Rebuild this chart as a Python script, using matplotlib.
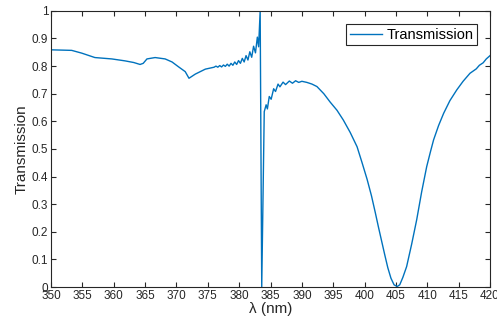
import matplotlib
matplotlib.use('Agg')
import matplotlib.pyplot as plt

plt.rcParams['font.family'] = ['Liberation Sans', 'DejaVu Sans']

# wavelength (nm) and transmission
wl = [350.0, 353.3, 354.9, 357.0, 359.7, 361.8, 363.2, 364.2, 364.7, 365.3,
      366.6, 368.2, 369.3, 370.3, 371.4, 372.0, 373.0, 374.6, 376.0, 376.3,
      376.6, 376.9, 377.2, 377.5, 377.8, 378.1, 378.4, 378.7, 379.0, 379.3,
      379.6, 379.9, 380.2, 380.5, 380.8, 381.1, 381.4, 381.7, 382.0, 382.3,
      382.6, 382.9, 383.1, 383.35, 383.6, 384.0, 384.3, 384.5, 384.8, 385.1,
      385.5, 385.8, 386.2, 386.5, 387.0, 387.4, 388.0, 388.5, 389.0, 389.5,
      390.0, 390.8, 391.6, 392.4, 393.5, 394.5, 395.6, 396.6, 397.7, 398.8,
      399.6, 400.4, 401.1, 401.7, 402.2, 402.7, 403.2, 403.7, 404.2, 404.7,
      405.2, 405.6, 406.1, 406.7, 407.5, 408.3, 409.1, 409.9, 410.5, 411.0,
      411.8, 412.6, 413.6, 414.7, 415.7, 416.8, 417.3, 417.8, 418.3, 418.9,
      419.4, 420.0]
trans = [0.859, 0.857, 0.847, 0.831, 0.826, 0.819, 0.813, 0.806, 0.810, 0.826,
         0.831, 0.826, 0.815, 0.798, 0.780, 0.756, 0.771, 0.789, 0.796, 0.800,
         0.796, 0.802, 0.797, 0.804, 0.799, 0.807, 0.800, 0.810, 0.803, 0.815,
         0.806, 0.820, 0.810, 0.828, 0.815, 0.838, 0.822, 0.852, 0.832, 0.872,
         0.848, 0.905, 0.870, 1.000, 0.000, 0.635, 0.660, 0.645, 0.690, 0.680,
         0.718, 0.708, 0.735, 0.725, 0.742, 0.733, 0.746, 0.738, 0.747, 0.741,
         0.745, 0.741, 0.735, 0.726, 0.700, 0.670, 0.640, 0.605, 0.560, 0.508,
         0.450, 0.390, 0.330, 0.270, 0.218, 0.168, 0.118, 0.070, 0.032, 0.008,
         0.002, 0.008, 0.035, 0.074, 0.155, 0.243, 0.345, 0.436, 0.490, 0.533,
         0.585, 0.629, 0.675, 0.714, 0.745, 0.774, 0.782, 0.790, 0.803, 0.812,
         0.826, 0.838]

fig = plt.figure(figsize=(4.97, 3.2), dpi=100)
ax = fig.add_axes([0.1026, 0.103, 0.8834, 0.863])

ax.plot(wl, trans, color='#0072BD', linewidth=1.0, label='Transmission')

ax.set_xlim(350, 420)
ax.set_ylim(0, 1)
ax.set_xticks(range(350, 421, 5))
ax.set_yticks([i / 10 for i in range(11)])
ax.set_yticklabels(['0', '0.1', '0.2', '0.3', '0.4', '0.5', '0.6', '0.7', '0.8', '0.9', '1'])

gray = '#262626'
for s in ax.spines.values():
    s.set_color(gray)
    s.set_linewidth(0.8)
ax.tick_params(direction='in', top=True, right=True, length=3.5, width=0.8,
               colors=gray, labelsize=8.5, pad=2)

ax.set_xlabel('λ (nm)', fontsize=11, color=gray, labelpad=0)
ax.set_ylabel('Transmission', fontsize=11, color=gray, labelpad=2)

leg = ax.legend(loc='upper right', fontsize=10.5, fancybox=False, framealpha=1,
                borderpad=0.25, handlelength=2.2, handletextpad=0.3,
                borderaxespad=0.9)
leg.get_frame().set_edgecolor(gray)
leg.get_frame().set_linewidth(0.8)

fig.savefig('out.png', dpi=100)
